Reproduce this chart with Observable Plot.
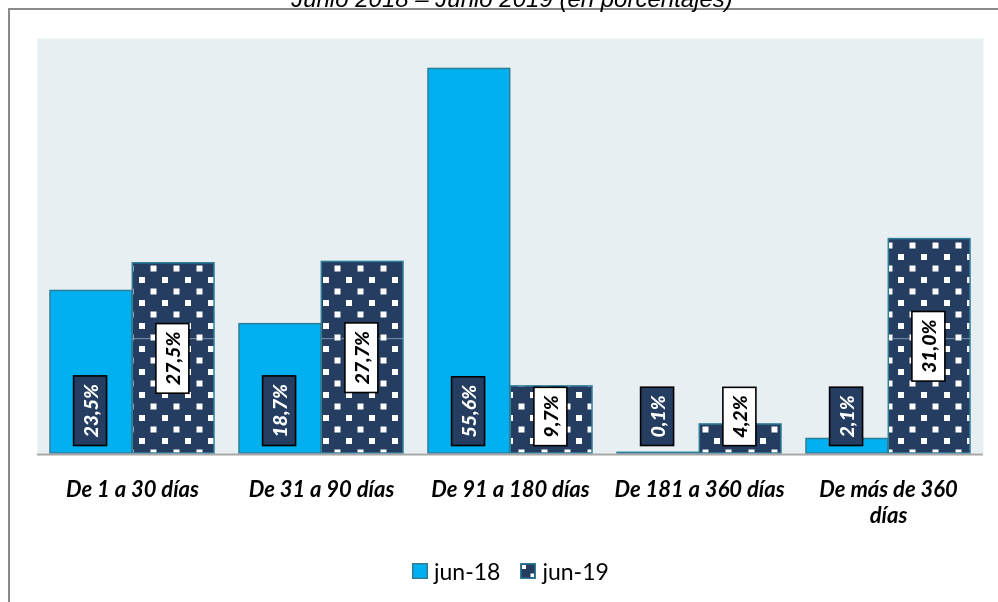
<!DOCTYPE html>
<html><head><meta charset="utf-8">
<script src="https://cdn.jsdelivr.net/npm/d3@7"></script>
<script src="https://cdn.jsdelivr.net/npm/@observablehq/plot@0.6"></script>
<style>
body{margin:0;background:#fff;width:998px;height:602px;overflow:hidden;position:relative;font-family:Lato,sans-serif}
#frame{position:absolute;left:8px;top:8px;width:1200px;height:800px;border-left:2px solid #8a8a8a;border-top:2px solid #8a8a8a;box-sizing:border-box}
#title{position:absolute;left:0;width:1024px;text-align:center;top:-15px;line-height:24px;font:italic 24px "Liberation Sans",Arial,sans-serif;color:#000;white-space:nowrap}
#chart{position:absolute;left:0;top:0}
#legend{position:absolute;top:556px;left:412px;display:flex;align-items:center;font:23px Lato,sans-serif;color:#000;line-height:30px}
#legend .item{display:flex;align-items:center;margin-right:20px}
#legend svg{margin-right:6px}
</style></head>
<body>
<div id="frame"></div>
<div id="title">Junio 2018 – Junio 2019 (en porcentajes)</div>
<div id="chart"></div>
<div id="legend"></div>
<script>
const categories = ["De 1 a 30 días","De 31 a 90 días","De 91 a 180 días","De 181 a 360 días","De más de 360 días"];
const categoryLabels = ["De 1 a 30 días","De 31 a 90 días","De 91 a 180 días","De 181 a 360 días","De más de 360\ndías"];
const series = ["jun-18","jun-19"];
const jun18 = [23.5, 18.7, 55.6, 0.1, 2.1];
const jun19 = [27.5, 27.7, 9.7, 4.2, 31.0];
const gridValues = [16.6];

const data18 = categories.map((c,i)=>({category:c, value:jun18[i]}));
const data19 = categories.map((c,i)=>({category:c, value:jun19[i]}));
const fmt = v => v.toFixed(1).replace(".", ",") + "%";

const NAVY = "#243D61", BLUE = "#00B0F0", EDGE = "#2F7E98";
const half = 82.3;

const plot = Plot.plot({
  width: 998, height: 530,
  marginLeft: 37, marginRight: 15, marginTop: 38, marginBottom: 77,
  style: {fontFamily: "Lato, sans-serif", background: "transparent", overflow: "visible"},
  x: {domain: categories, paddingInner: 0.13, paddingOuter: 0.065, axis: null, label: null},
  y: {domain: [0, 60], axis: null},
  marks: [
    Plot.frame({fill: "#E8EFF2", stroke: "none"}),
    Plot.barY(data19, {x: "category", y: "value", fill: "url(#dots19)", stroke: EDGE, strokeWidth: 1.5, insetLeft: half}),
    Plot.ruleY(gridValues, {stroke: "#8296AE", strokeWidth: 1, mixBlendMode: "lighten"}),
    Plot.barY(data18, {x: "category", y: "value", fill: BLUE, stroke: EDGE, strokeWidth: 1.5, insetRight: half}),
    Plot.ruleY([0], {stroke: "#A6A6A6", strokeWidth: 2, dy: 1}),
    Plot.text(data18, {x: "category", y: 0, text: d => fmt(d.value), rotate: -90, textAnchor: "start",
      dx: -half/2, dy: -16, fill: "white", fontSize: 19.5, fontWeight: 900, fontStyle: "italic"}),
    Plot.text(data19, {x: "category", y: d => Math.max(d.value/2, 5.35), text: d => fmt(d.value), rotate: -90, textAnchor: "middle",
      dx: half/2, fill: "black", fontSize: 19.5, fontWeight: 900, fontStyle: "italic"}),
    Plot.axisX({tickSize: 0, tickPadding: 24, label: null, tickFormat: d => categoryLabels[categories.indexOf(d)],
      fontSize: 22, fontWeight: "bold", fontStyle: "italic", fill: "black", lineHeight: 1.22})
  ]
});
document.getElementById("chart").append(plot);

const ns = "http://www.w3.org/2000/svg";
const defs = document.createElementNS(ns, "defs");
defs.innerHTML = `<pattern id="dots19" patternUnits="userSpaceOnUse" width="23" height="23">
  <rect width="23" height="23" fill="${NAVY}"/>
  <rect x="1" y="1" width="6" height="6" fill="#fff"/>
  <rect x="12.5" y="12.5" width="6" height="6" fill="#fff"/></pattern>`;
plot.insertBefore(defs, plot.firstChild);

plot.querySelectorAll('g[aria-label="text"]').forEach((g, gi) => {
  g.querySelectorAll("text").forEach(t => {
    const b = t.getBBox();
    const r = document.createElementNS(ns, "rect");
    r.setAttribute("x", b.x - 8);
    r.setAttribute("y", b.y - 5);
    r.setAttribute("width", b.width + 16);
    r.setAttribute("height", b.height + 10);
    r.setAttribute("transform", t.getAttribute("transform") || "");
    r.setAttribute("fill", gi === 0 ? NAVY : "#fff");
    r.setAttribute("stroke", "#000");
    r.setAttribute("stroke-width", "1.6");
    g.insertBefore(r, t);
  });
});

const legend = document.getElementById("legend");
series.forEach((s, i) => {
  const item = document.createElement("div");
  item.className = "item";
  const sw = i === 0
    ? `<svg width="16" height="16"><rect x="0.75" y="0.75" width="14.5" height="14.5" fill="${BLUE}" stroke="${EDGE}" stroke-width="1.5"/></svg>`
    : `<svg width="16" height="16"><rect x="0.75" y="0.75" width="14.5" height="14.5" fill="${NAVY}" stroke="${EDGE}" stroke-width="1.5"/><rect x="2" y="2" width="4" height="4" fill="#fff"/><rect x="10.5" y="10.5" width="3.5" height="3.5" fill="#fff"/></svg>`;
  item.innerHTML = sw + `<span>${s}</span>`;
  legend.append(item);
});
</script>
</body></html>
